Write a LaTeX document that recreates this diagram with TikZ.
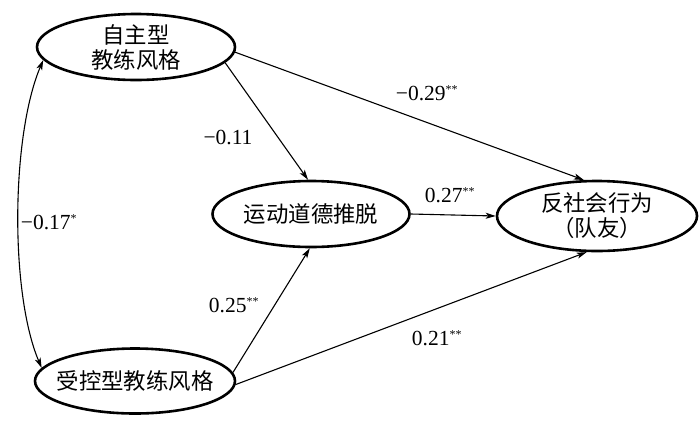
\documentclass[tikz,border=0pt]{standalone}
\usepackage{fontspec}
\setmainfont{Liberation Serif}
\newfontfamily\cjk{Noto Sans CJK SC}
\usetikzlibrary{shapes.geometric,arrows.meta}
\tikzset{
  latent/.style={ellipse,draw,line width=2.6pt,inner ysep=0pt,inner xsep=-14pt,align=center,
    font=\cjk\fontsize{22.4}{25}\selectfont},
  path/.style={line width=1.1pt,-{Stealth[length=10pt,width=6pt,inset=2.5pt]}},
  coef/.style={font=\fontsize{21.5}{23}\selectfont,inner sep=0pt},
}
\newcommand{\sig}[1]{\textsuperscript{\fontsize{12}{12}\selectfont #1}}
\begin{document}
\begin{tikzpicture}[x=1pt,y=-1pt]
\useasboundingbox (0,0) rectangle (700,432);
\node[latent,minimum width=198pt,minimum height=66pt] (auto) at (136,47) {自主型\\教练风格};
\node[latent,minimum width=200pt,minimum height=65pt] (ctrl) at (135,381) {受控型教练风格};
\node[latent,minimum width=197pt,minimum height=66pt] (md) at (311,214) {运动道德推脱};
\node[latent,minimum width=200pt,minimum height=70pt] (anti) at (597,216) {反社会行为\\（队友）};

\draw[path] (auto.-3) -- (anti.110);
\draw[path] (auto.-10) -- (md.95);
\draw[path] (md.east) -- (anti.west);
\draw[path] (ctrl.5) -- (md.-92);
\draw[path] (ctrl.-2) -- (anti.-106);
\draw[line width=1.1pt,{Stealth[length=10pt,width=6pt,inset=2.5pt]}-{Stealth[length=10pt,width=6pt,inset=2.5pt]}]
  (auto.188) .. controls +(-32,75) and +(-32,-75) .. (ctrl.172);

\node[coef] (c1) at (427,93) {−0.29\sig{**}};
\node[coef] (c2) at (228,137) {−0.11};
\node[coef] (c3) at (450,195) {0.27\sig{**}};
\node[coef] (c4) at (234,305) {0.25\sig{**}};
\node[coef] (c5) at (437,338) {0.21\sig{**}};
\node[coef] (c6) at (49,222) {−0.17\sig{*}};
\end{tikzpicture}
\end{document}
